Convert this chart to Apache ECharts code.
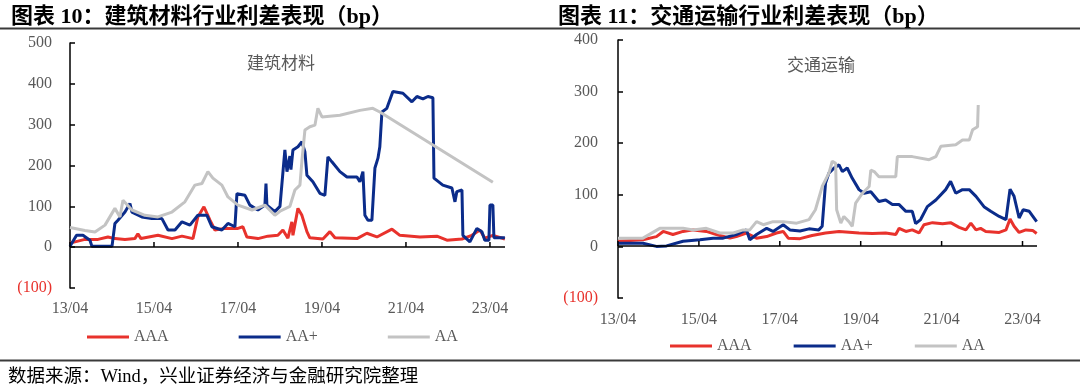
<!DOCTYPE html>
<html>
<head>
<meta charset="utf-8">
<script src="https://cdn.jsdelivr.net/npm/echarts@6/dist/echarts.min.js"></script>
<style>
html,body{margin:0;padding:0;background:#fff;}
#c{width:1080px;height:388px;}
</style>
</head>
<body>
<div id="c"></div>
<script>
// ---------- tick labels ----------
const xTickLabels = ['13/04','15/04','17/04','19/04','21/04','23/04'];

// ---------- 建筑材料 (left) ----------
const bmAAA_dates = ['2013-04-01','2013-08-09','2013-12-01','2014-02-26','2014-04-26','2014-07-22','2014-10-17','2014-11-13','2014-12-09','2015-05-05','2015-09-05','2015-12-01','2016-03-05','2016-04-17','2016-06-09','2016-08-01','2016-09-13','2016-12-09','2017-04-01','2017-05-13','2017-06-17','2017-09-22','2017-12-17','2018-03-13','2018-04-26','2018-05-13','2018-06-09','2018-07-13','2018-07-22','2018-09-05','2018-10-09','2018-11-22','2018-12-17','2019-04-09','2019-06-09','2019-07-22','2020-02-01','2020-04-26','2020-07-22','2020-12-01','2021-02-09','2021-08-01','2021-12-26','2022-03-22','2022-08-01','2022-10-26','2023-01-05','2023-02-17','2023-04-26','2023-08-09'];
const bmAAA = [10,19,19,25,21,19,21,33,21,29,21,27,21,74,99,66,42,46,46,50,25,21,27,29,42,46,22,62,29,95,78,38,23,20,38,23,21,34,25,44,29,25,27,17,20,29,42,22,29,20];

const bmAAp_dates = ['2013-04-01','2013-04-17','2013-05-27','2013-07-22','2013-09-22','2013-10-09','2014-04-01','2014-04-09','2014-04-26','2014-05-22','2014-07-22','2014-09-05','2014-09-22','2014-12-17','2015-03-13','2015-06-09','2015-08-01','2015-10-01','2015-12-01','2016-02-09','2016-04-17','2016-07-05','2016-08-17','2016-11-13','2017-01-05','2017-03-05','2017-03-22','2017-06-01','2017-07-13','2017-09-22','2017-11-22','2017-12-01','2017-12-09','2018-02-17','2018-04-01','2018-04-09','2018-05-13','2018-06-01','2018-06-26','2018-07-05','2018-07-22','2018-09-05','2018-10-09','2018-11-05','2018-11-22','2019-01-13','2019-03-13','2019-04-26','2019-05-22','2019-06-26','2019-09-05','2019-11-05','2020-02-01','2020-02-26','2020-03-22','2020-04-09','2020-05-05','2020-06-09','2020-07-05','2020-08-01','2020-08-17','2020-09-05','2020-10-17','2020-12-09','2021-03-05','2021-05-22','2021-07-05','2021-08-26','2021-10-09','2021-11-22','2021-12-01','2022-02-17','2022-05-05','2022-06-01','2022-06-17','2022-08-01','2022-08-09','2022-10-09','2022-12-09','2023-01-22','2023-02-17','2023-03-22','2023-04-01','2023-04-26','2023-05-05','2023-08-09'];
const bmAAp = [2,5,29,29,17,2,2,4,58,66,86,107,86,74,70,70,42,42,62,54,78,78,50,42,58,50,131,127,103,91,103,156,103,87,100,103,238,185,223,190,238,246,258,233,176,160,132,127,221,209,185,172,172,160,185,78,66,66,194,218,246,331,340,381,377,356,369,363,369,366,169,152,145,111,136,140,29,13,46,38,17,17,103,103,23,23];

const bmAA_dates = ['2013-04-01','2013-08-09','2013-11-05','2014-02-01','2014-04-26','2014-06-09','2014-07-05','2014-09-22','2015-01-13','2015-05-05','2015-09-05','2015-12-26','2016-03-22','2016-05-22','2016-07-13','2016-08-26','2016-11-13','2017-01-05','2017-04-01','2017-08-01','2017-11-22','2018-02-17','2018-04-01','2018-06-26','2018-08-09','2018-09-22','2018-10-09','2018-11-05','2018-12-17','2019-02-01','2019-02-26','2019-04-01','2019-09-05','2020-02-26','2020-06-17','2020-08-17','2023-04-26'];
const bmAA = [48,41,37,54,95,74,115,91,78,74,86,111,152,156,185,169,152,123,103,91,103,78,88,100,140,152,211,287,295,299,340,319,323,335,340,331,159];

// ---------- 交通运输 (right) ----------
const trAAA_dates = ['2013-04-01','2013-11-13','2014-03-13','2014-05-13','2014-08-10','2014-11-10','2015-02-10','2015-06-07','2015-09-07','2016-01-07','2016-03-04','2016-06-04','2016-09-04','2016-12-04','2017-03-01','2017-05-01','2017-06-16','2017-10-01','2018-01-18','2018-05-18','2018-09-18','2019-03-16','2019-07-16','2019-11-13','2020-02-13','2020-03-13','2020-05-13','2020-07-10','2020-09-10','2020-10-24','2021-01-10','2021-04-10','2021-06-21','2021-09-07','2021-11-07','2021-12-21','2022-02-07','2022-03-18','2022-05-04','2022-09-04','2022-11-04','2022-12-10','2023-01-16','2023-03-01','2023-05-01','2023-07-01','2023-08-07'];
const trAAA = [10,13,19,29,23,29,32,29,23,16,19,26,16,19,26,29,16,15,21,26,29,26,25,26,23,35,29,32,26,42,46,44,46,37,32,45,32,35,29,27,32,53,39,27,32,31,25];

const trAAp_dates = ['2013-04-01','2013-11-13','2014-03-13','2014-06-13','2014-11-10','2015-04-10','2015-08-07','2015-11-07','2016-03-04','2016-06-04','2016-07-04','2016-09-04','2016-12-04','2017-02-01','2017-05-01','2017-07-01','2017-10-01','2017-12-21','2018-03-18','2018-04-18','2018-05-18','2018-06-18','2018-08-04','2018-09-18','2018-10-18','2018-12-01','2019-01-16','2019-03-16','2019-05-01','2019-07-01','2019-09-13','2019-11-13','2020-01-13','2020-03-13','2020-05-13','2020-07-10','2020-08-10','2020-09-24','2020-11-24','2021-02-10','2021-05-07','2021-06-21','2021-08-07','2021-10-07','2021-12-07','2022-02-07','2022-04-18','2022-06-18','2022-09-04','2022-11-04','2022-12-10','2023-01-16','2023-03-01','2023-04-07','2023-06-01','2023-08-07'];
const trAAp = [6,6,0,1,10,13,16,16,23,32,13,23,35,29,42,32,30,34,32,39,123,142,152,158,145,152,132,110,103,106,87,90,81,81,68,68,44,52,77,90,110,126,103,110,110,97,77,68,58,52,111,97,55,71,68,48];

const trAA_dates = ['2013-04-01','2013-11-13','2014-04-13','2014-07-10','2014-11-10','2015-02-10','2015-06-07','2015-10-07','2016-02-07','2016-05-04','2016-07-04','2016-09-04','2016-11-04','2017-02-01','2017-05-01','2017-09-01','2017-12-21','2018-02-18','2018-04-18','2018-06-18','2018-07-18','2018-08-04','2018-08-18','2018-08-27','2018-10-04','2018-11-01','2018-12-16','2019-01-16','2019-02-16','2019-04-16','2019-06-16','2019-07-01','2019-08-01','2019-09-13','2020-02-13','2020-02-27','2020-07-10','2020-12-10','2021-02-10','2021-03-24','2021-08-07','2021-10-07','2021-12-07','2022-01-07','2022-02-21','2022-02-27'];
const trAA = [16,16,35,35,35,32,35,26,26,32,32,48,42,48,48,45,52,71,116,142,165,168,161,71,45,58,48,39,84,103,116,148,145,135,135,174,174,168,174,194,197,206,206,226,232,274];

// ---------- helpers ----------
function toM(s){
  const p = s.split('-').map(Number);
  return (p[0]-2013)*12 + (p[1]-4) + (p[2]-1)/30;
}
function pairs(dates, vals){ return dates.map((d,i)=>[toM(d), vals[i]]); }

const RED = '#E8322C', BLUE = '#0B2C8A', GRAY = '#C3C3C3';
const LBL = '#595959';
const SERIF = "'Liberation Serif','Noto Sans CJK SC',serif";
const tickVals = xTickLabels.map((_,i)=>i*24);
const X_MAX = 124.3;

const grids = [
  {left:70, top:43, width:435, height:245, yMin:-100, yMax:500},
  {left:618, top:40, width:419, height:258, yMin:-100, yMax:400}
];

function xLabelAxis(g, margin){
  return {type:'value', gridIndex:g, min:0, max:X_MAX, position:'bottom',
    axisLine:{show:false, onZero:false}, axisTick:{show:false}, splitLine:{show:false},
    axisLabel:{show:true, customValues:tickVals, margin:margin, color:LBL, fontFamily:SERIF, fontSize:16,
      formatter:v=>{const i=Math.round(v/24); return xTickLabels[i]||'';}}};
}
function yAxis(g, margin){
  const gr = grids[g];
  return {type:'value', gridIndex:g, min:gr.yMin, max:gr.yMax, interval:100,
    axisLine:{show:true, onZero:false, lineStyle:{color:'#000', width:1.5}},
    axisTick:{show:true, inside:true, length:5, lineStyle:{color:'#000', width:1.5}},
    splitLine:{show:false},
    axisLabel:{margin:margin, color:LBL, fontFamily:SERIF, fontSize:16,
      formatter:v=> v<0 ? '{n|('+(-v)+')}' : String(v),
      rich:{n:{color:'#E8322C', fontFamily:SERIF, fontSize:16}}}};
}
function line(name, xi, yi, data, color){
  return {name:name, type:'line', xAxisIndex:xi, yAxisIndex:yi, data:data, showSymbol:false,
    symbol:'none', lineStyle:{color:color, width:3}, itemStyle:{color:color}, animation:false};
}

const chart = echarts.init(document.getElementById('c'), null, {renderer:'canvas'});
chart.setOption({
  animation:false,
  backgroundColor:'#fff',
  title:[
    {text:'图表 10：建筑材料行业利差表现（bp）', left:6, top:1,
      textStyle:{fontFamily:SERIF, fontWeight:'bold', fontSize:22, color:'#000'}},
    {text:'图表 11：交通运输行业利差表现（bp）', left:553, top:1,
      textStyle:{fontFamily:SERIF, fontWeight:'bold', fontSize:22, color:'#000'}},
    {text:'建筑材料', left:276, top:58, textAlign:'center', textVerticalAlign:'middle',
      textStyle:{fontFamily:"'Noto Sans CJK SC'", fontWeight:'normal', fontSize:17, color:LBL}},
    {text:'交通运输', left:816, top:60, textAlign:'center', textVerticalAlign:'middle',
      textStyle:{fontFamily:"'Noto Sans CJK SC'", fontWeight:'normal', fontSize:17, color:LBL}}
  ],
  grid: grids.map(g=>({left:g.left, top:g.top, width:g.width, height:g.height, outerBoundsMode:'none'})),
  legend:[
    {left:82, top:324, itemWidth:42, itemHeight:3, itemGap:70, icon:'rect',
      data:['AAA','AA+','AA'], textStyle:{fontFamily:SERIF, fontSize:16, color:LBL}, selectedMode:false},
    {left:665, top:333, itemWidth:42, itemHeight:3, itemGap:42, icon:'rect',
      data:['AAA','AA+','AA'], textStyle:{fontFamily:SERIF, fontSize:16, color:LBL}, selectedMode:false}
  ],
  xAxis:[xLabelAxis(0,13), xLabelAxis(1,14)],
  yAxis:[yAxis(0,18), yAxis(1,20)],
  series:[
    line('AAA',0,0,pairs(bmAAA_dates,bmAAA),RED),
    line('AA+',0,0,pairs(bmAAp_dates,bmAAp),BLUE),
    line('AA',0,0,pairs(bmAA_dates,bmAA),GRAY),
    line('AAA',1,1,pairs(trAAA_dates,trAAA),RED),
    line('AA+',1,1,pairs(trAAp_dates,trAAp),BLUE),
    line('AA',1,1,pairs(trAA_dates,trAA),GRAY)
  ]
});

// zero-line x axis (line + inward ticks), placed through the chart's own scales
function px(finder, v, fallback){
  const p = chart.convertToPixel(finder, v);
  const n = Array.isArray(p) ? p[0] : p;
  return (typeof n === 'number' && isFinite(n)) ? n : fallback;
}
function zeroAxis(g, xi, yi){
  const gr = grids[g];
  const yFb = gr.top + gr.height * gr.yMax / (gr.yMax - gr.yMin);
  const y0 = Math.round(px({yAxisIndex:yi}, 0, yFb));
  const xs = px({xAxisIndex:xi}, 0, gr.left);
  const xe = px({xAxisIndex:xi}, X_MAX, gr.left + gr.width);
  const els = [{type:'rect', zlevel:5, z:100, silent:true,
    shape:{x:xs, y:y0-0.75, width:xe-xs, height:1.5}, style:{fill:'#000'}}];
  tickVals.forEach(v=>{
    const x = px({xAxisIndex:xi}, v, gr.left + gr.width * v / X_MAX);
    els.push({type:'rect', zlevel:5, z:100, silent:true,
      shape:{x:x-0.75, y:y0-5, width:1.5, height:5}, style:{fill:'#000'}});
  });
  return els;
}

chart.setOption({
  graphic: [
    {type:'line', shape:{x1:0,y1:28.5,x2:1080,y2:28.5}, style:{stroke:'#3a3a3a', lineWidth:2}},
    {type:'line', shape:{x1:0,y1:360.5,x2:1080,y2:360.5}, style:{stroke:'#3a3a3a', lineWidth:2}},
    {type:'text', x:8, y:377, style:{text:'数据来源：Wind，兴业证券经济与金融研究院整理',
      fontFamily:SERIF, fontSize:18.5, fill:'#000', verticalAlign:'middle', align:'left'}}
  ].concat(zeroAxis(0,0,0), zeroAxis(1,1,1))
});
</script>
</body>
</html>
